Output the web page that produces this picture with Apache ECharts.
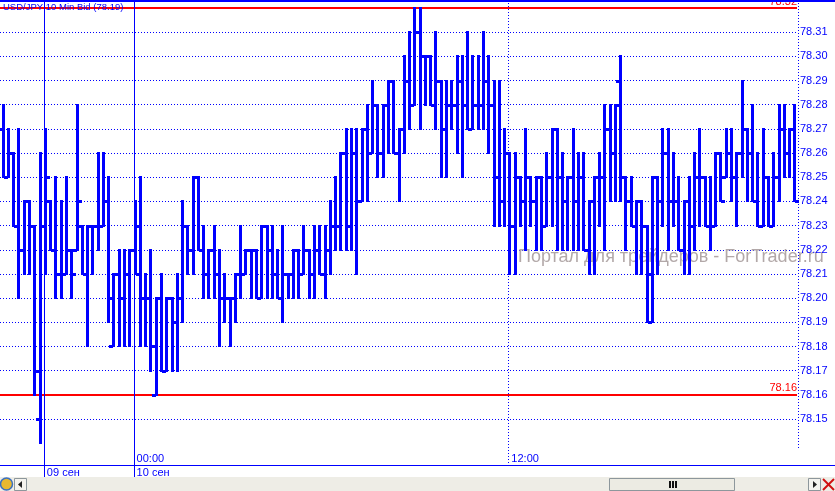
<!DOCTYPE html>
<html>
<head>
<meta charset="utf-8">
<script src="https://cdn.jsdelivr.net/npm/echarts@6.0.0/dist/echarts.min.js"></script>
<style>
html,body{margin:0;padding:0;background:#fff;}
#c{width:835px;height:491px;}
</style>
</head>
<body>
<div id="c"></div>
<script>
// ---- data (USD/JPY 10 Min Bid) ----
const highs = [78.28,78.27,78.26,78.27,78.24,78.24,78.23,78.26,78.27,78.24,78.25,78.24,78.25,78.22,78.28,78.23,78.23,78.23,78.26,78.26,
78.25,78.21,78.22,78.22,78.22,78.24,78.25,78.21,78.22,78.20,78.21,78.20,78.20,78.21,78.24,78.23,78.25,78.25,78.23,78.22,
78.23,78.22,78.21,78.20,78.21,78.23,78.22,78.22,78.22,78.23,78.23,78.23,78.22,78.23,78.21,78.22,78.22,78.23,78.22,78.23,
78.23,78.23,78.24,78.25,78.26,78.27,78.27,78.27,78.27,78.28,78.29,78.28,78.28,78.29,78.29,78.27,78.30,78.31,78.32,78.32,
78.30,78.30,78.31,78.29,78.29,78.29,78.30,78.30,78.31,78.30,78.30,78.31,78.30,78.29,78.29,78.27,78.26,78.26,78.25,78.27,
78.25,78.25,78.25,78.26,78.27,78.27,78.26,78.25,78.27,78.26,78.26,78.24,78.25,78.26,78.28,78.28,78.28,78.30,78.25,78.25,
78.24,78.24,78.23,78.25,78.25,78.27,78.27,78.26,78.25,78.24,78.25,78.26,78.27,78.25,78.25,78.26,78.26,78.27,78.27,78.26,
78.29,78.27,78.28,78.26,78.27,78.25,78.26,78.28,78.28,78.27,78.28];
const lows = [78.25,78.25,78.23,78.20,78.21,78.21,78.16,78.14,78.21,78.22,78.20,78.20,78.21,78.20,78.22,78.21,78.18,78.21,78.22,78.23,
78.19,78.18,78.18,78.18,78.18,78.21,78.18,78.18,78.17,78.16,78.17,78.17,78.17,78.17,78.19,78.21,78.21,78.22,78.20,78.20,
78.20,78.18,78.19,78.18,78.19,78.20,78.21,78.20,78.20,78.20,78.20,78.20,78.20,78.19,78.20,78.20,78.20,78.21,78.20,78.20,
78.21,78.20,78.21,78.22,78.22,78.22,78.22,78.21,78.24,78.24,78.26,78.25,78.25,78.26,78.26,78.24,78.26,78.27,78.28,78.27,
78.28,78.28,78.27,78.25,78.25,78.27,78.26,78.25,78.27,78.27,78.27,78.27,78.26,78.23,78.23,78.23,78.21,78.21,78.23,78.22,
78.23,78.22,78.22,78.23,78.23,78.22,78.22,78.22,78.22,78.22,78.22,78.21,78.21,78.23,78.22,78.24,78.24,78.24,78.22,78.23,
78.21,78.21,78.19,78.19,78.21,78.23,78.22,78.23,78.22,78.21,78.21,78.22,78.23,78.23,78.22,78.23,78.24,78.25,78.24,78.23,
78.25,78.24,78.24,78.23,78.23,78.23,78.23,78.24,78.25,78.25,78.24];
const opens = [78.27,78.25,78.26,78.23,78.22,78.24,78.23,78.15,78.23,78.24,78.22,78.21,78.21,78.22,78.22,78.23,78.21,78.23,78.23,78.23,
78.24,78.18,78.21,78.20,78.21,78.22,78.23,78.20,78.20,78.16,78.20,78.17,78.20,78.19,78.20,78.23,78.22,78.25,78.22,78.21,
78.22,78.21,78.20,78.20,78.20,78.21,78.21,78.22,78.22,78.20,78.23,78.22,78.21,78.20,78.21,78.21,78.22,78.21,78.22,78.21,
78.22,78.21,78.22,78.23,78.23,78.26,78.23,78.26,78.24,78.27,78.26,78.28,78.26,78.28,78.29,78.26,78.27,78.29,78.28,78.31,
78.30,78.30,78.28,78.29,78.27,78.28,78.28,78.29,78.28,78.27,78.28,78.28,78.29,78.28,78.25,78.24,78.26,78.23,78.25,78.24,
78.25,78.24,78.25,78.23,78.25,78.27,78.25,78.24,78.25,78.24,78.25,78.22,78.24,78.25,78.25,78.27,78.26,78.29,78.25,78.24,
78.23,78.24,78.23,78.21,78.25,78.24,78.26,78.24,78.24,78.22,78.24,78.23,78.25,78.25,78.23,78.23,78.26,78.25,78.26,78.25,
78.26,78.27,78.26,78.24,78.23,78.25,78.23,78.25,78.27,78.26,78.27];
const closes = [78.25,78.26,78.23,78.22,78.24,78.23,78.17,78.23,78.25,78.22,78.21,78.21,78.22,78.21,78.24,78.21,78.23,78.23,78.23,78.24,
78.20,78.21,78.20,78.21,78.22,78.21,78.20,78.20,78.18,78.20,78.17,78.20,78.19,78.20,78.23,78.22,78.25,78.22,78.21,78.22,
78.21,78.20,78.20,78.20,78.21,78.21,78.22,78.22,78.20,78.23,78.22,78.21,78.20,78.21,78.21,78.22,78.21,78.22,78.21,78.22,
78.21,78.22,78.23,78.23,78.26,78.23,78.26,78.24,78.27,78.26,78.28,78.26,78.28,78.29,78.26,78.27,78.29,78.28,78.31,78.30,
78.30,78.28,78.29,78.27,78.28,78.28,78.29,78.28,78.27,78.28,78.28,78.29,78.28,78.25,78.24,78.26,78.23,78.25,78.24,78.25,
78.24,78.25,78.23,78.25,78.27,78.25,78.24,78.25,78.24,78.25,78.22,78.24,78.25,78.25,78.27,78.26,78.28,78.25,78.24,78.23,
78.24,78.23,78.19,78.25,78.24,78.26,78.24,78.24,78.22,78.24,78.23,78.25,78.25,78.23,78.23,78.26,78.24,78.26,78.25,78.26,
78.27,78.26,78.24,78.23,78.25,78.23,78.25,78.27,78.26,78.27,78.24];
const categories = highs.map((_, i) => 'bar ' + i);
const tickLabels = ['78.15','78.16','78.17','78.18','78.19','78.20','78.21','78.22','78.23','78.24','78.25','78.26','78.27','78.28','78.29','78.30','78.31'];
const redLevels = [78.32, 78.16];
// time separators: bar index, time text, date text, line style
const separators = [
  {bar: 8,  time: '',      date: '09 сен', dash: null},
  {bar: 25, time: '00:00', date: '10 сен', dash: null},
  {bar: 96, time: '12:00', date: '',       dash: [1, 2]}
];
const titleText = 'USD/JPY 10 Min Bid (78.19)';
const watermark = 'Портал для трейдеров - ForTrader.ru';

// ---- chart ----
const BLUE = '#0000ff', RED = '#ff0000';
const FONT = 'Liberation Sans, Arial, sans-serif';
const chart = echarts.init(document.getElementById('c'), null, {renderer: 'canvas'});
const ohlc = highs.map((h, i) => [i, opens[i], closes[i], lows[i], h]);
const sepIdx = separators.map(s => s.bar);

function renderItem(params, api) {
  const i = api.value(0);
  const o = api.coord([i, api.value(1)]);
  const c = api.coord([i, api.value(2)]);
  const l = api.coord([i, api.value(3)]);
  const h = api.coord([i, api.value(4)]);
  const x = Math.round(o[0]);
  const yh = Math.round(h[1]), yl = Math.round(l[1]);
  const yo = Math.round(o[1]), yc = Math.round(c[1]);
  const st = {fill: BLUE};
  return {type: 'group', children: [
    {type: 'rect', shape: {x: x - 1, y: yh - 1, width: 3, height: yl - yh + 2}, style: st},
    {type: 'rect', shape: {x: x - 4, y: yo - 1, width: 4, height: 3}, style: st},
    {type: 'rect', shape: {x: x + 1, y: yc - 1, width: 4, height: 3}, style: st}
  ]};
}

const option = {
  animation: false,
  backgroundColor: '#ffffff',
  grid: {left: 0, right: 38, top: 8, height: 411, containLabel: false, outerBoundsMode: 'none'},
  xAxis: {
    type: 'category', data: categories, boundaryGap: true,
    axisLine: {show: false}, axisTick: {show: false}, splitLine: {show: false},
    axisLabel: {
      interval: (idx) => sepIdx.indexOf(idx) >= 0,
      formatter: (v, idx) => {
        const s = separators.find(o => o.bar === idx);
        if (!s) return '';
        return s.time + (s.date ? '\n' + s.date : '');
      },
      align: 'left', verticalAlign: 'top', margin: 33, lineHeight: 14,
      padding: [0, 0, 0, 2],
      color: BLUE, fontSize: 11, fontFamily: FONT
    }
  },
  yAxis: {
    type: 'value', position: 'right', min: 78.15, max: 78.32, interval: 0.01,
    axisLine: {show: false}, axisTick: {show: false},
    splitLine: {show: true, lineStyle: {color: BLUE, width: 1, type: [1, 2]}},
    axisLabel: {
      margin: 3, color: BLUE, fontSize: 11, fontFamily: FONT,
      formatter: (v) => { const t = v.toFixed(2); return tickLabels.indexOf(t) >= 0 ? t : ''; }
    }
  },
  series: [{
    type: 'custom', name: 'USD/JPY', renderItem: renderItem, data: ohlc, clip: false, z: 5,
    encode: {x: 0, y: [1, 2, 3, 4]},
    markLine: {
      silent: true, symbol: 'none', animation: false,
      lineStyle: {color: RED, width: 2, type: 'solid'},
      label: {position: 'insideEndTop', color: RED, fontSize: 11, fontFamily: FONT, distance: [0, 1],
              formatter: (p) => p.value.toFixed(2)},
      data: redLevels.map(v => ({yAxis: v}))
    }
  }]
};
chart.setOption(option);

// chrome + separator lines (x from the category axis scale)
const g = [];
g.push({type: 'text', z: 0, style: {x: 518, y: 257, text: watermark, fill: '#b2a8a8', font: '18px ' + FONT, verticalAlign: 'middle'}, silent: true});
separators.forEach(s => {
  const px = Math.round(chart.convertToPixel({xAxisIndex: 0}, categories[s.bar])) - 0.5;
  g.push({type: 'line', z: 50, silent: true,
    shape: {x1: px, y1: 0, x2: px, y2: s.dash ? 465 : 477},
    style: {stroke: BLUE, lineWidth: 1, lineDash: s.dash || null}});
});
g.push({type: 'rect', z: 100, shape: {x: 0, y: 0, width: 835, height: 2}, style: {fill: BLUE}});
g.push({type: 'line', z: 100, shape: {x1: 798.5, y1: 0, x2: 798.5, y2: 450}, style: {stroke: BLUE, lineWidth: 1, lineDash: [1, 2]}});
g.push({type: 'rect', z: 100, shape: {x: 0, y: 465, width: 835, height: 1}, style: {fill: BLUE}});
g.push({type: 'text', z: 100, style: {x: 3, y: 7.5, text: titleText, fill: BLUE, font: '9.5px ' + FONT, verticalAlign: 'middle'}});
// scroll bar strip
g.push({type: 'rect', z: 100, shape: {x: 0, y: 477, width: 835, height: 14}, style: {fill: '#eeede6'}});
g.push({type: 'circle', z: 101, shape: {cx: 6.5, cy: 484, r: 6}, style: {fill: '#e8b830', stroke: '#3a70c0', lineWidth: 1.5}});
g.push({type: 'rect', z: 101, shape: {x: 14.5, y: 478.5, width: 12, height: 12}, style: {fill: '#f4f3ee', stroke: '#8d979c'}});
g.push({type: 'polygon', z: 102, shape: {points: [[22, 481], [22, 488], [18, 484.5]]}, style: {fill: '#222'}});
g.push({type: 'rect', z: 101, shape: {x: 609.5, y: 478.5, width: 125, height: 12}, style: {fill: '#ecebe3', stroke: '#8d979c'}});
[669, 672, 675].forEach(x => g.push({type: 'rect', z: 102, shape: {x: x, y: 481, width: 2, height: 7}, style: {fill: '#111'}}));
g.push({type: 'rect', z: 101, shape: {x: 808.5, y: 478.5, width: 12, height: 12}, style: {fill: '#f4f3ee', stroke: '#8d979c'}});
g.push({type: 'polygon', z: 102, shape: {points: [[813, 481], [813, 488], [817, 484.5]]}, style: {fill: '#222'}});
g.push({type: 'line', z: 102, shape: {x1: 823, y1: 479, x2: 834, y2: 490}, style: {stroke: '#d01010', lineWidth: 2}});
g.push({type: 'line', z: 102, shape: {x1: 834, y1: 479, x2: 823, y2: 490}, style: {stroke: '#d01010', lineWidth: 2}});
chart.setOption({graphic: g});
</script>
</body>
</html>
